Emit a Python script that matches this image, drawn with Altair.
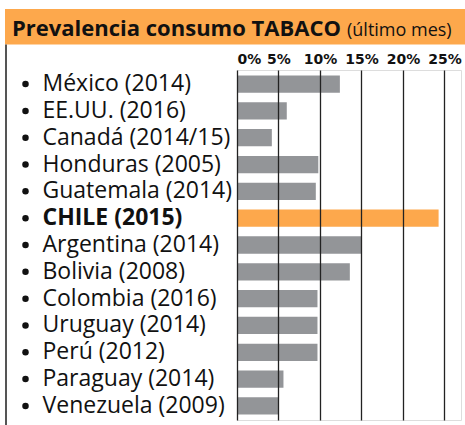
import altair as alt
import pandas as pd

countries = ["México (2014)", "EE.UU. (2016)", "Canadá (2014/15)", "Honduras (2005)",
             "Guatemala (2014)", "CHILE (2015)", "Argentina (2014)", "Bolivia (2008)",
             "Colombia (2016)", "Uruguay (2014)", "Perú (2012)", "Paraguay (2014)",
             "Venezuela (2009)"]
values = [12.4, 6.0, 4.2, 9.8, 9.5, 24.3, 15.0, 13.6, 9.7, 9.7, 9.7, 5.6, 5.0]
highlight = "CHILE (2015)"
tick_values = [0, 5, 10, 15, 20, 25]
title_main = "Prevalencia consumo TABACO"
title_sub = "(último mes)"

df = pd.DataFrame({"label": countries, "value": values,
                   "hl": [c == highlight for c in countries]})

ORANGE = "#FDA84C"
GRAY = "#939598"

yscale = alt.Scale(paddingInner=0.35, paddingOuter=0.2)

bars = alt.Chart(df).mark_bar(size=17.3).encode(
    x=alt.X("value:Q", scale=alt.Scale(domain=[0, 27], nice=False),
            axis=alt.Axis(orient="top", values=tick_values, labelExpr="datum.value + '%'",
                          title=None, ticks=False, domain=False, grid=True,
                          gridColor="#222222", gridWidth=1.3, gridOpacity=1, zindex=1,
                          labelFont="DejaVu Sans", labelFontWeight="bold", labelFontSize=14,
                          labelColor="#111111", labelPadding=4)),
    y=alt.Y("label:N", sort=None, scale=yscale,
            axis=alt.Axis(title=None, ticks=False, domain=False, labelAlign="left",
                          labelPadding=195, labelFont="Open Sans", labelFontSize=23,
                          labelColor="#111111", labelLimit=0, labelBaseline="middle",
                          labelFontWeight={"condition": {"test": "datum.value == '" + highlight + "'",
                                                         "value": "bold"},
                                           "value": "normal"})),
    color=alt.condition("datum.hl", alt.value(ORANGE), alt.value(GRAY)),
)

bullets = alt.Chart(df).mark_circle(size=42, color="#111111", opacity=1).encode(
    x=alt.value(-211.5),
    y=alt.Y("label:N", sort=None, scale=yscale),
)

deco_df = pd.DataFrame({"a": [0]})
banner = alt.Chart(deco_df).mark_rect(color=ORANGE).encode(
    x=alt.value(-232), x2=alt.value(228), y=alt.value(-61), y2=alt.value(-25.5))
frame = alt.Chart(deco_df).mark_rule(color="#555555", strokeWidth=2).encode(
    x=alt.value(-231), y=alt.value(-25.5), y2=alt.value(356))
t1 = alt.Chart(deco_df).mark_text(align="left", baseline="alphabetic", font="Open Sans",
                                  fontWeight="bold", fontSize=22, color="#111111").encode(
    x=alt.value(-225), y=alt.value(-34), text=alt.value(title_main))
t2 = alt.Chart(deco_df).mark_text(align="left", baseline="alphabetic", font="Open Sans",
                                  fontSize=18, color="#111111").encode(
    x=alt.value(110), y=alt.value(-34), text=alt.value(title_sub))

chart = alt.layer(banner, frame, bars, bullets, t1, t2).properties(
    width=224, height=350,
    autosize=alt.AutoSizeParams(type="none"),
    padding={"left": 237, "top": 70, "right": 4, "bottom": 5},
).configure_view(stroke=None).configure(background="white")

chart.save("out.html", embed_options={"renderer": "svg", "actions": False})
